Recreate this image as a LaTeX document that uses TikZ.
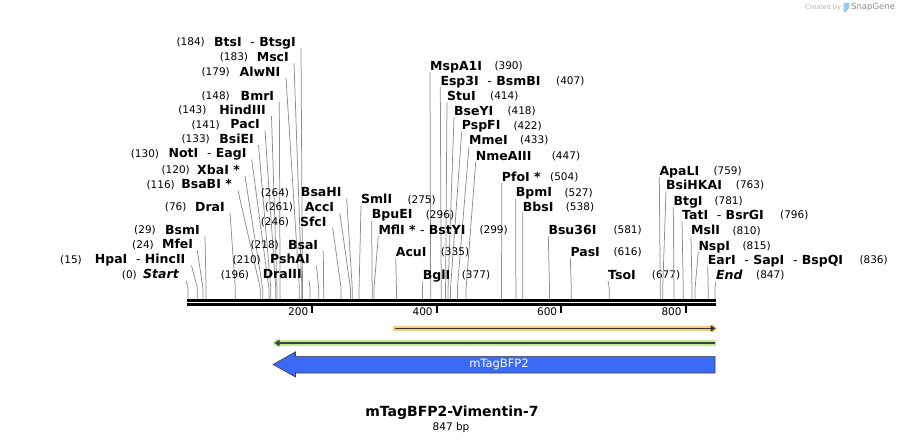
\documentclass[tikz,border=0pt]{standalone}
\usepackage{fontspec}
\setmainfont{DejaVu Sans}
\usepackage{xcolor}
\usetikzlibrary{positioning,calc,arrows.meta}
\definecolor{bfpblue}{RGB}{58,106,246}
\definecolor{orfgreen}{RGB}{190,238,140}
\definecolor{orforange}{RGB}{252,204,128}
\definecolor{cutgray}{RGB}{140,140,140}
\definecolor{logoblue}{RGB}{150,200,240}

\begin{document}
\begin{tikzpicture}[x=1pt,y=-1pt,
    enz/.style={font=\fontsize{12.5}{14}\selectfont\bfseries, inner sep=0pt, text height=9pt, text depth=0pt},
    num/.style={font=\fontsize{10.5}{12}\selectfont, inner sep=0pt, text height=7.6pt, text depth=0pt},
    cut/.style={draw=cutgray, line width=0.75pt}]
    \useasboundingbox (0,0) rectangle (903,444);

    % Watermark
    \node[font=\fontsize{6.5}{8}\selectfont, text=black!30, anchor=west, inner sep=0pt] (made) at (805,7.5) {Created by};
    \fill[logoblue] (843.5,3) -- (849,3) -- (849,8) -- (846,12) -- (843.5,12) -- cycle;
    \node[font=\fontsize{8.5}{10}\selectfont, text=black!45, anchor=west, inner sep=0pt] (sg) at (851,7.5) {SnapGene};

    % Sequence ends
    \coordinate (r0) at (188,299.3);
    \coordinate (r1) at (715,299.3);

    % Labels left of their cut lines
    \coordinate (s1) at ($(r0)!184/847!(r1)$);
    \node[enz, anchor=east] (e1) at (296,41.7) {BtsI\ \ {\mdseries -}\ BtsgI};
    \node[num, anchor=east] (n1) at (205,41.7) {(184)};
    \draw[cut] (e1.south east) ++(5,1.5) -- ([yshift=11.3pt]s1) -- (s1);

    \coordinate (s2) at ($(r0)!183/847!(r1)$);
    \node[enz, anchor=east] (e2) at (289,57) {MscI};
    \node[num, anchor=east] (n2) at (248.3,57) {(183)};
    \draw[cut] (e2.south east) ++(5,1.5) -- ([yshift=11.3pt]s2) -- (s2);

    \coordinate (s3) at ($(r0)!179/847!(r1)$);
    \node[enz, anchor=east] (e3) at (280.5,71.7) {AlwNI};
    \node[num, anchor=east] (n3) at (230,71.7) {(179)};
    \draw[cut] (e3.south east) ++(5.5,1.5) -- ([yshift=11.3pt]s3) -- (s3);

    \coordinate (s4) at ($(r0)!148/847!(r1)$);
    \node[enz, anchor=east] (e4) at (274.3,95.7) {BmrI};
    \node[num, anchor=east] (n4) at (230,95.7) {(148)};
    \draw[cut] (e4.south east) ++(5,1.5) -- ([yshift=11.3pt]s4) -- (s4);

    \coordinate (s5) at ($(r0)!143/847!(r1)$);
    \node[enz, anchor=east] (e5) at (266,110) {HindIII};
    \node[num, anchor=east] (n5) at (206.7,110) {(143)};
    \draw[cut] (e5.south east) ++(5.5,1.5) -- ([yshift=11.3pt]s5) -- (s5);

    \coordinate (s6) at ($(r0)!141/847!(r1)$);
    \node[enz, anchor=east] (e6) at (260,124.3) {PacI};
    \node[num, anchor=east] (n6) at (220,124.3) {(141)};
    \draw[cut] (e6.south east) ++(5,1.5) -- ([yshift=11.3pt]s6) -- (s6);

    \coordinate (s7) at ($(r0)!133/847!(r1)$);
    \node[enz, anchor=east] (e7) at (254,139) {BsiEI};
    \node[num, anchor=east] (n7) at (210,139) {(133)};
    \draw[cut] (e7.south east) ++(4.5,1.5) -- ([yshift=11.3pt]s7) -- (s7);

    \coordinate (s8) at ($(r0)!130/847!(r1)$);
    \node[enz, anchor=east] (e8) at (246.7,153.3) {NotI\ \ {\mdseries -}\ EagI};
    \node[num, anchor=east] (n8) at (159.3,153.3) {(130)};
    \draw[cut] (e8.south east) ++(5,1.5) -- ([yshift=11.3pt]s8) -- (s8);

    \coordinate (s9) at ($(r0)!120/847!(r1)$);
    \node[enz, anchor=east] (e9) at (240,170) {XbaI *};
    \node[num, anchor=east] (n9) at (190,170) {(120)};
    \draw[cut] (e9.south east) ++(5,1.5) -- ([yshift=11.3pt]s9) -- (s9);

    \coordinate (s10) at ($(r0)!116/847!(r1)$);
    \node[enz, anchor=east] (e10) at (232,184.3) {BsaBI *};
    \node[num, anchor=east] (n10) at (175,184.3) {(116)};
    \draw[cut] (e10.south east) ++(6,1.5) -- ([yshift=11.3pt]s10) -- (s10);

    \coordinate (s11) at ($(r0)!76/847!(r1)$);
    \node[enz, anchor=east] (e11) at (225,206.7) {DraI};
    \node[num, anchor=east] (n11) at (186.7,206.7) {(76)};
    \draw[cut] (e11.south east) ++(5,1.5) -- ([yshift=11.3pt]s11) -- (s11);

    \coordinate (s12) at ($(r0)!29/847!(r1)$);
    \node[enz, anchor=east] (e12) at (200,230) {BsmI};
    \node[num, anchor=east] (n12) at (156,230) {(29)};
    \draw[cut] (e12.south east) ++(5,1.5) -- ([yshift=11.3pt]s12) -- (s12);

    \coordinate (s13) at ($(r0)!24/847!(r1)$);
    \node[enz, anchor=east] (e13) at (193.3,244.3) {MfeI};
    \node[num, anchor=east] (n13) at (154,244.3) {(24)};
    \draw[cut] (e13.south east) ++(4,1.5) -- ([yshift=11.3pt]s13) -- (s13);

    \coordinate (s14) at ($(r0)!15/847!(r1)$);
    \node[enz, anchor=east] (e14) at (185.5,259.3) {HpaI\ \ {\mdseries -}\ HincII};
    \node[num, anchor=east] (n14) at (82,259.3) {(15)};
    \draw[cut] (e14.south east) ++(6,1.5) -- ([yshift=11.3pt]s14) -- (s14);

    \coordinate (s15) at ($(r0)!0/847!(r1)$);
    \node[enz, anchor=east] (e15) at (179,274.3) {\itshape Start};
    \node[num, anchor=east] (n15) at (137,274.3) {(0)};
    \draw[cut] (e15.south east) ++(7,1.5) -- ([yshift=11.3pt]s15) -- (s15);

    \coordinate (s16) at ($(r0)!264/847!(r1)$);
    \node[enz, anchor=east] (e16) at (341.7,192.3) {BsaHI};
    \node[num, anchor=east] (n16) at (289.3,192.3) {(264)};
    \draw[cut] (e16.south east) ++(5,1.5) -- ([yshift=11.3pt]s16) -- (s16);

    \coordinate (s17) at ($(r0)!261/847!(r1)$);
    \node[enz, anchor=east] (e17) at (334.3,206.7) {AccI};
    \node[num, anchor=east] (n17) at (293.3,206.7) {(261)};
    \draw[cut] (e17.south east) ++(5.5,1.5) -- ([yshift=11.3pt]s17) -- (s17);

    \coordinate (s18) at ($(r0)!246/847!(r1)$);
    \node[enz, anchor=east] (e18) at (326.7,221.7) {SfcI};
    \node[num, anchor=east] (n18) at (289.3,221.7) {(246)};
    \draw[cut] (e18.south east) ++(6,1.5) -- ([yshift=11.3pt]s18) -- (s18);

    \coordinate (s19) at ($(r0)!218/847!(r1)$);
    \node[enz, anchor=east] (e19) at (318.3,245) {BsaI};
    \node[num, anchor=east] (n19) at (279,245) {(218)};
    \draw[cut] (e19.south east) ++(5,1.5) -- ([yshift=11.3pt]s19) -- (s19);

    \coordinate (s20) at ($(r0)!210/847!(r1)$);
    \node[enz, anchor=east] (e20) at (310,259.3) {PshAI};
    \node[num, anchor=east] (n20) at (261,259.3) {(210)};
    \draw[cut] (e20.south east) ++(6.5,1.5) -- ([yshift=11.3pt]s20) -- (s20);

    \coordinate (s21) at ($(r0)!196/847!(r1)$);
    \node[enz, anchor=east] (e21) at (302,274.3) {DraIII};
    \node[num, anchor=east] (n21) at (249.3,274.3) {(196)};
    \draw[cut] (e21.south east) ++(7,1.5) -- ([yshift=11.3pt]s21) -- (s21);

    % Labels right of their cut lines
    \coordinate (s22) at ($(r0)!390/847!(r1)$);
    \node[enz, anchor=west] (e22) at (430,65.7) {MspA1I};
    \node[num, anchor=west] (n22) at (494.3,65.7) {(390)};
    \draw[cut] (e22.south west) ++(0,1.6) -- ([yshift=11.3pt]s22) -- (s22);

    \coordinate (s23) at ($(r0)!407/847!(r1)$);
    \node[enz, anchor=west] (e23) at (440.3,80.8) {Esp3I\ \ {\mdseries -}\ BsmBI};
    \node[num, anchor=west] (n23) at (556,80.8) {(407)};
    \draw[cut] (e23.south west) ++(0,1.6) -- ([yshift=11.3pt]s23) -- (s23);

    \coordinate (s24) at ($(r0)!414/847!(r1)$);
    \node[enz, anchor=west] (e24) at (447,95.8) {StuI};
    \node[num, anchor=west] (n24) at (490,95.8) {(414)};
    \draw[cut] (e24.south west) ++(0,1.6) -- ([yshift=11.3pt]s24) -- (s24);

    \coordinate (s25) at ($(r0)!418/847!(r1)$);
    \node[enz, anchor=west] (e25) at (454,110.8) {BseYI};
    \node[num, anchor=west] (n25) at (507.3,110.8) {(418)};
    \draw[cut] (e25.south west) ++(0,1.6) -- ([yshift=11.3pt]s25) -- (s25);

    \coordinate (s26) at ($(r0)!422/847!(r1)$);
    \node[enz, anchor=west] (e26) at (461.7,125.3) {PspFI};
    \node[num, anchor=west] (n26) at (513.3,125.3) {(422)};
    \draw[cut] (e26.south west) ++(0,1.6) -- ([yshift=11.3pt]s26) -- (s26);

    \coordinate (s27) at ($(r0)!433/847!(r1)$);
    \node[enz, anchor=west] (e27) at (469,140) {MmeI};
    \node[num, anchor=west] (n27) at (520,140) {(433)};
    \draw[cut] (e27.south west) ++(0,1.6) -- ([yshift=11.3pt]s27) -- (s27);

    \coordinate (s28) at ($(r0)!447/847!(r1)$);
    \node[enz, anchor=west] (e28) at (475.7,155.7) {NmeAIII};
    \node[num, anchor=west] (n28) at (551.7,155.7) {(447)};
    \draw[cut] (e28.south west) ++(0,1.6) -- ([yshift=11.3pt]s28) -- (s28);

    \coordinate (s29) at ($(r0)!504/847!(r1)$);
    \node[enz, anchor=west] (e29) at (501.7,176.7) {PfoI *};
    \node[num, anchor=west] (n29) at (550,176.7) {(504)};
    \draw[cut] (e29.south west) ++(0,1.6) -- ([yshift=11.3pt]s29) -- (s29);

    \coordinate (s30) at ($(r0)!527/847!(r1)$);
    \node[enz, anchor=west] (e30) at (515.7,192.3) {BpmI};
    \node[num, anchor=west] (n30) at (564.3,192.3) {(527)};
    \draw[cut] (e30.south west) ++(0,1.6) -- ([yshift=11.3pt]s30) -- (s30);

    \coordinate (s31) at ($(r0)!538/847!(r1)$);
    \node[enz, anchor=west] (e31) at (522.7,206.7) {BbsI};
    \node[num, anchor=west] (n31) at (565.7,206.7) {(538)};
    \draw[cut] (e31.south west) ++(0,1.6) -- ([yshift=11.3pt]s31) -- (s31);

    \coordinate (s32) at ($(r0)!275/847!(r1)$);
    \node[enz, anchor=west] (e32) at (361,199.3) {SmlI};
    \node[num, anchor=west] (n32) at (407.3,199.3) {(275)};
    \draw[cut] (e32.south west) ++(0,1.6) -- ([yshift=11.3pt]s32) -- (s32);

    \coordinate (s33) at ($(r0)!296/847!(r1)$);
    \node[enz, anchor=west] (e33) at (371.7,214.3) {BpuEI};
    \node[num, anchor=west] (n33) at (425.7,214.3) {(296)};
    \draw[cut] (e33.south west) ++(0,1.6) -- ([yshift=11.3pt]s33) -- (s33);

    \coordinate (s34) at ($(r0)!299/847!(r1)$);
    \node[enz, anchor=west] (e34) at (378.3,230) {MflI *\ {\mdseries -}\ BstYI};
    \node[num, anchor=west] (n34) at (479.3,230) {(299)};
    \draw[cut] (e34.south west) ++(0,1.6) -- ([yshift=11.3pt]s34) -- (s34);

    \coordinate (s35) at ($(r0)!335/847!(r1)$);
    \node[enz, anchor=west] (e35) at (395.7,251.7) {AcuI};
    \node[num, anchor=west] (n35) at (440.7,251.7) {(335)};
    \draw[cut] (e35.south west) ++(0,1.6) -- ([yshift=11.3pt]s35) -- (s35);

    \coordinate (s36) at ($(r0)!377/847!(r1)$);
    \node[enz, anchor=west] (e36) at (422.7,275) {BglI};
    \node[num, anchor=west] (n36) at (461.7,275) {(377)};
    \draw[cut] (e36.south west) ++(0,1.6) -- ([yshift=11.3pt]s36) -- (s36);

    \coordinate (s37) at ($(r0)!581/847!(r1)$);
    \node[enz, anchor=west] (e37) at (548.3,230) {Bsu36I};
    \node[num, anchor=west] (n37) at (613.3,230) {(581)};
    \draw[cut] (e37.south west) ++(0,1.6) -- ([yshift=11.3pt]s37) -- (s37);

    \coordinate (s38) at ($(r0)!616/847!(r1)$);
    \node[enz, anchor=west] (e38) at (570.3,251.7) {PasI};
    \node[num, anchor=west] (n38) at (613.3,251.7) {(616)};
    \draw[cut] (e38.south west) ++(0,1.6) -- ([yshift=11.3pt]s38) -- (s38);

    \coordinate (s39) at ($(r0)!677/847!(r1)$);
    \node[enz, anchor=west] (e39) at (608,274.5) {TsoI};
    \node[num, anchor=west] (n39) at (651.7,274.5) {(677)};
    \draw[cut] (e39.south west) ++(0,1.6) -- ([yshift=11.3pt]s39) -- (s39);

    \coordinate (s40) at ($(r0)!759/847!(r1)$);
    \node[enz, anchor=west] (e40) at (659.3,170.7) {ApaLI};
    \node[num, anchor=west] (n40) at (713.3,170.7) {(759)};
    \draw[cut] (e40.south west) ++(0,1.6) -- ([yshift=11.3pt]s40) -- (s40);

    \coordinate (s41) at ($(r0)!763/847!(r1)$);
    \node[enz, anchor=west] (e41) at (666,185) {BsiHKAI};
    \node[num, anchor=west] (n41) at (735.7,185) {(763)};
    \draw[cut] (e41.south west) ++(0,1.6) -- ([yshift=11.3pt]s41) -- (s41);

    \coordinate (s42) at ($(r0)!781/847!(r1)$);
    \node[enz, anchor=west] (e42) at (673.3,200.7) {BtgI};
    \node[num, anchor=west] (n42) at (714.3,200.7) {(781)};
    \draw[cut] (e42.south west) ++(0,1.6) -- ([yshift=11.3pt]s42) -- (s42);

    \coordinate (s43) at ($(r0)!796/847!(r1)$);
    \node[enz, anchor=west] (e43) at (682,215) {TatI\ \ {\mdseries -}\ BsrGI};
    \node[num, anchor=west] (n43) at (780,215) {(796)};
    \draw[cut] (e43.south west) ++(0,1.6) -- ([yshift=11.3pt]s43) -- (s43);

    \coordinate (s44) at ($(r0)!810/847!(r1)$);
    \node[enz, anchor=west] (e44) at (691,230.3) {MslI};
    \node[num, anchor=west] (n44) at (732.3,230.3) {(810)};
    \draw[cut] (e44.south west) ++(0,1.6) -- ([yshift=11.3pt]s44) -- (s44);

    \coordinate (s45) at ($(r0)!815/847!(r1)$);
    \node[enz, anchor=west] (e45) at (698.3,245.7) {NspI};
    \node[num, anchor=west] (n45) at (742.3,245.7) {(815)};
    \draw[cut] (e45.south west) ++(0,1.6) -- ([yshift=11.3pt]s45) -- (s45);

    \coordinate (s46) at ($(r0)!836/847!(r1)$);
    \node[enz, anchor=west] (e46) at (707.7,260) {EarI\ \ {\mdseries -}\ SapI\ \ {\mdseries -}\ BspQI};
    \node[num, anchor=west] (n46) at (859.3,260) {(836)};
    \draw[cut] (e46.south west) ++(0,1.6) -- ([yshift=11.3pt]s46) -- (s46);

    \coordinate (s47) at ($(r0)!847/847!(r1)$);
    \node[enz, anchor=west] (e47) at (716,275) {\itshape End};
    \node[num, anchor=west] (n47) at (756,275) {(847)};
    \draw[cut] (e47.south west) ++(0,1.6) -- ([yshift=11.3pt]s47) -- (s47);

    % Ruler
    \draw[line width=2.7pt] (187,300.7) -- (716,300.7);
    \draw[line width=2.4pt] (187,304.5) -- (716,304.5);
    \coordinate (t200) at ($(r0)!200/847!(r1)$);
    \coordinate (t400) at ($(r0)!400/847!(r1)$);
    \coordinate (t600) at ($(r0)!600/847!(r1)$);
    \coordinate (t800) at ($(r0)!800/847!(r1)$);
    \draw[line width=2pt] ([yshift=-6pt]t200) -- ([yshift=-13.4pt]t200);
    \draw[line width=2pt] ([yshift=-6pt]t400) -- ([yshift=-13.4pt]t400);
    \draw[line width=2pt] ([yshift=-6pt]t600) -- ([yshift=-13.4pt]t600);
    \draw[line width=2pt] ([yshift=-6pt]t800) -- ([yshift=-13.4pt]t800);
    \node[num, anchor=east] (l200) at ([xshift=-4pt,yshift=-12.4pt]t200) {200};
    \node[num, anchor=east] (l400) at ([xshift=-4pt,yshift=-12.4pt]t400) {400};
    \node[num, anchor=east] (l600) at ([xshift=-4pt,yshift=-12.4pt]t600) {600};
    \node[num, anchor=east] (l800) at ([xshift=-4pt,yshift=-12.4pt]t800) {800};

    % Features
    \draw[orforange, line width=5.4pt, -{Triangle[length=5.5pt,width=9pt]}] (393,328.5) -- (717.5,328.5); % forward primer
    \draw[black!80, line width=1.7pt, -{Triangle[length=5pt,width=6.5pt]}] (395,328.5) -- (715.5,328.5);
    \draw[orfgreen, line width=5.4pt, {Triangle[length=5.5pt,width=9pt]}-] (272.5,343) -- (716,343); % reverse ORF
    \draw[black!75, line width=1.7pt, {Triangle[length=5pt,width=6.5pt]}-] (274.5,343) -- (715,343);
    \draw[fill=bfpblue, draw=black!75, line width=0.6pt] (273,364.5) -- (295.5,351.8) -- (295.5,356.3) -- (715,356.3) -- (715,373) -- (295.5,373) -- (295.5,377) -- cycle;
    \node[text=white, font=\fontsize{11.5}{13}\selectfont] (bfp) at (499,364.5) {mTagBFP2};

    % Title
    \node[font=\fontsize{14}{16}\selectfont\bfseries] (title) at (452,413) {mTagBFP2-Vimentin-7};
    \node[font=\fontsize{10.5}{12}\selectfont] (len) at (451,428) {847 bp};
\end{tikzpicture}
\end{document}
